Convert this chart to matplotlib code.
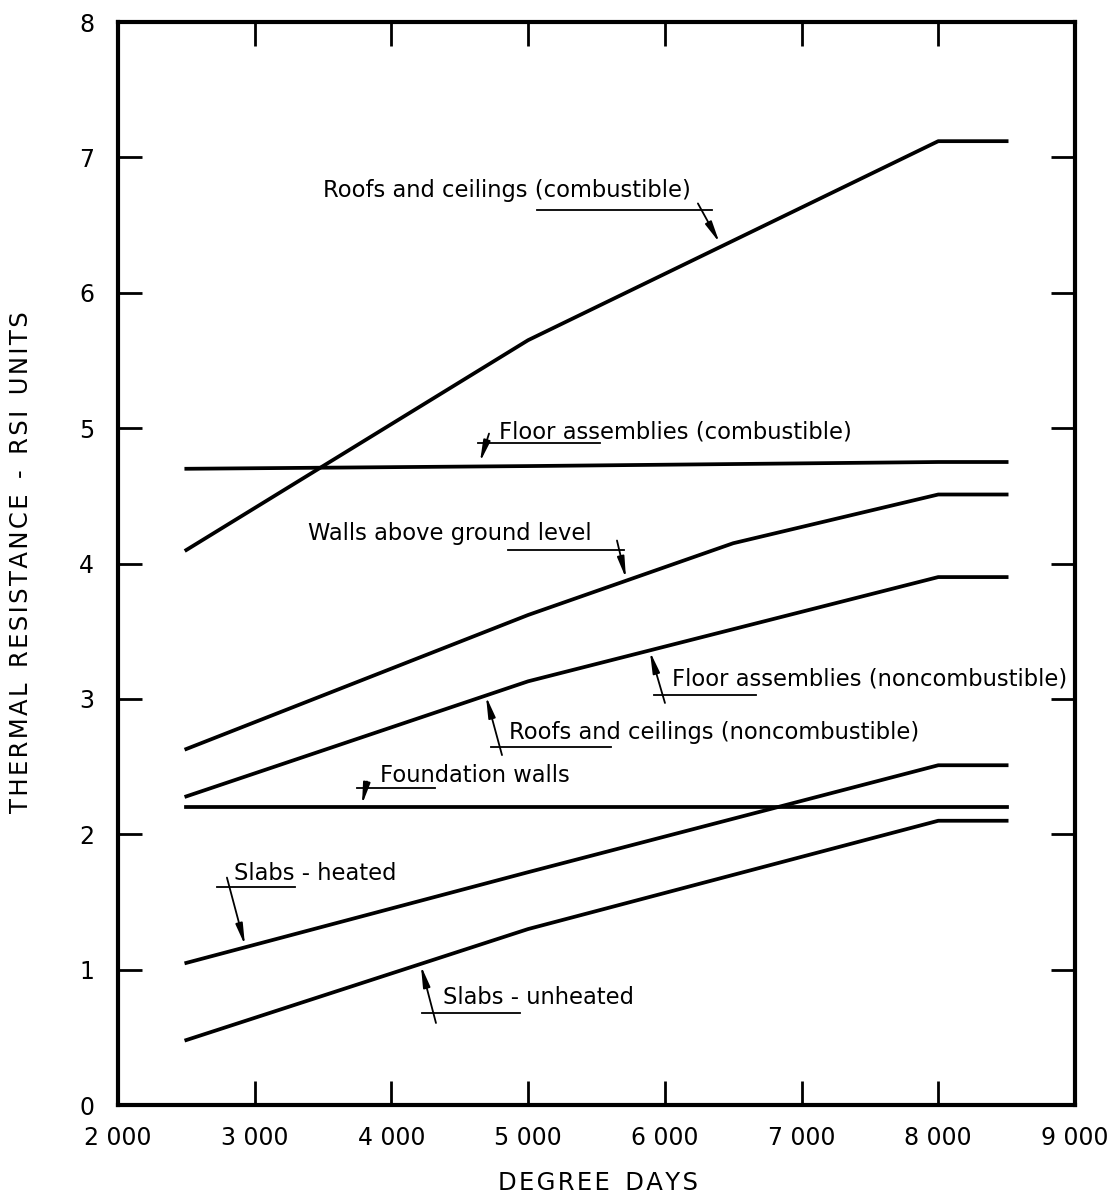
import matplotlib
matplotlib.use("Agg")
import matplotlib.pyplot as plt

# degree days break points and RSI values
dd = [2500, 5000, 8000, 8500]
dd_walls = [2500, 5000, 6500, 8000, 8500]
roofs_comb = [4.10, 5.65, 7.12, 7.12]
floor_comb = [4.70, 4.72, 4.75, 4.75]
walls_above = [2.63, 3.62, 4.15, 4.51, 4.51]
floor_noncomb = [2.28, 3.13, 3.90, 3.90]
foundation = [2.20, 2.20, 2.20, 2.20]
slabs_heated = [1.05, 1.72, 2.51, 2.51]
slabs_unheated = [0.48, 1.30, 2.10, 2.10]

x_ticks = [2000, 3000, 4000, 5000, 6000, 7000, 8000, 9000]
x_ticklabels = ["2 000", "3 000", "4 000", "5 000", "6 000", "7 000", "8 000", "9 000"]
y_ticks = [0, 1, 2, 3, 4, 5, 6, 7, 8]

# label text, text anchor, underline span, leader start, arrow tip
labels = [
    ("Roofs and ceilings (combustible)", (3499, 6.707), (5065, 6345, 6.61), (6242, 6.66), (6400, 6.37)),
    ("Floor assemblies (combustible)", (4787, 4.927), (4633, 5526, 4.89), (4714, 4.96), (4648, 4.75)),
    ("Walls above ground level", (3390, 4.174), (4853, 5701, 4.10), (5650, 4.17), (5716, 3.89)),
    ("Floor assemblies (noncombustible)", (6052, 3.102), (5921, 6667, 3.03), (6001, 2.97), (5891, 3.35)),
    ("Roofs and ceilings (noncombustible)", (4860, 2.704), (4728, 5606, 2.645), (4809, 2.585), (4692, 3.02)),
    ("Foundation walls", (3916, 2.386), (3748, 4319, 2.34), (3821, 2.39), (3785, 2.22)),
    ("Slabs - heated", (2849, 1.662), (2724, 3295, 1.61), (2797, 1.68), (2929, 1.18)),
    ("Slabs - unheated", (4377, 0.746), (4224, 4940, 0.68), (4326, 0.606), (4216, 1.03)),
]

plt.rcParams['font.family'] = ['DejaVu Sans']

fig = plt.figure(figsize=(11.15, 11.98), dpi=100)
ax = fig.add_axes([0.1058, 0.0776, 0.8583, 0.904])

lw = 2.7
ax.plot(dd, roofs_comb, color='black', lw=lw)
ax.plot(dd, floor_comb, color='black', lw=lw)
ax.plot(dd_walls, walls_above, color='black', lw=lw)
ax.plot(dd, floor_noncomb, color='black', lw=lw)
ax.plot(dd, foundation, color='black', lw=lw)
ax.plot(dd, slabs_heated, color='black', lw=lw)
ax.plot(dd, slabs_unheated, color='black', lw=lw)

for text, pos, uline, start, tip in labels:
    ax.text(pos[0], pos[1], text, fontsize=16.3, ha='left', va='baseline')
    ax.plot([uline[0], uline[1]], [uline[2], uline[2]], color='black', lw=1.3)
    ax.annotate('', xy=tip, xytext=start,
                arrowprops=dict(arrowstyle='-|>,head_length=0.9,head_width=0.15',
                                mutation_scale=14, lw=1.3, color='black',
                                shrinkA=0, shrinkB=0))

ax.set_xlim(2000, 9000)
ax.set_ylim(0, 8)
ax.set_xticks(x_ticks)
ax.set_xticklabels(x_ticklabels)
ax.set_yticks(y_ticks)
ax.set_yticklabels([str(v) for v in y_ticks])
ax.tick_params(direction='in', length=17, width=2, top=True, right=True,
               labelsize=17, pad=17)
ax.tick_params(axis='x', pad=15)
for s in ax.spines.values():
    s.set_linewidth(3)

hs = '\u200a'
ylab = '  '.join(hs.join(w) for w in "THERMAL RESISTANCE - RSI UNITS".split(' '))
xlab = '  '.join(hs.join(w) for w in "DEGREE DAYS".split(' '))
fig.text(0.019, 0.531, ylab, rotation=90, fontsize=17.5, ha='center', va='center')
fig.text(0.5363, 0.0125, xlab, fontsize=17.5, ha='center', va='center')

fig.savefig('out.png', dpi=100)
